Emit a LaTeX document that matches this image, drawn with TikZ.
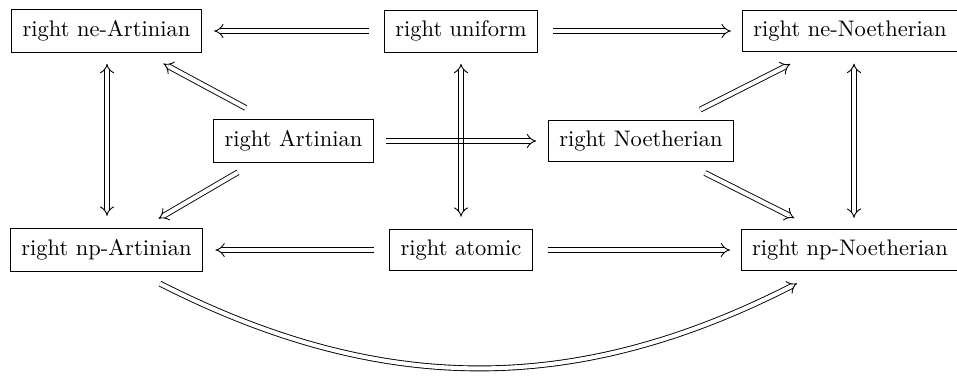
\documentclass[tikz,border=0pt]{standalone}
\usetikzlibrary{arrows.meta,calc}
\tikzset{
  box/.style={draw, line width=0.4pt, inner sep=4.8pt},
  imp/.style={double, double distance=1.8pt, line width=0.4pt, -{Implies}},
  bimp/.style={double, double distance=1.8pt, line width=0.4pt, {Implies}-{Implies}},
  edgeline/.style={line width=0.4pt},
}
\begin{document}
\begin{tikzpicture}[x=0.4444pt, y=-0.4444pt]
\useasboundingbox (0,0) rectangle (957,379);
% nodes
\node[box] (neA)  at (106.5,31) {right ne-Artinian};
\node[box] (uni)  at (461,31)   {right uniform};
\node[box] (neN)  at (850,31)   {right ne-Noetherian};
\node[box] (art)  at (293.5,141) {right Artinian};
\node[box] (noe)  at (641,141)  {right Noetherian};
\node[box] (npA)  at (106.5,250) {right np-Artinian};
\node[box] (atom) at (461,250)  {right atomic};
\node[box] (npN)  at (850,250)  {right np-Noetherian};
% top row
\draw[imp, shorten <=6.7pt, shorten >=5.6pt] (uni) -- (neA);
\draw[imp, shorten <=6.7pt, shorten >=5pt] (uni) -- (neN);
% bottom row
\draw[imp, shorten <=7pt, shorten >=5.6pt] (atom) -- (npA);
\draw[imp, shorten <=6.7pt, shorten >=4.8pt] (atom) -- (npN);
% verticals
\draw[bimp, shorten <=5pt, shorten >=5.6pt] ($(neA.south)+(0.5,0)$) -- ($(npA.north)+(0.5,0)$);
\draw[bimp, shorten <=5pt, shorten >=5.3pt] (uni.south) -- (atom.north);
\draw[bimp, shorten <=5pt, shorten >=4.8pt] ($(neN.south)+(4,0)$) -- ($(npN.north)+(4,0)$);
% middle horizontal (over the vertical)
\draw[imp, shorten <=5.3pt, shorten >=5.3pt] (art) -- (noe);
\begin{scope}
  \clip (447,128) rectangle (475,154);
  \draw[edgeline] ($(uni.south)+(1.1pt,0)$) -- ($(atom.north)+(1.1pt,0)$);
  \draw[edgeline] ($(uni.south)+(-1.1pt,0)$) -- ($(atom.north)+(-1.1pt,0)$);
\end{scope}
% diagonals
\draw[imp, shorten <=10.7pt, shorten >=10.3pt] ($(art.north)+(-26.5,0)$) -- ($(neA.south)+(36.5,0)$);
\draw[imp, shorten <=8.5pt, shorten >=8.5pt] ($(art.south)+(-39,0)$) -- ($(npA.north)+(35.5,0)$);
\draw[imp, shorten <=9.8pt, shorten >=11.5pt] ($(noe.north)+(39.4,0)$) -- ($(neN.south)+(-36.6,0)$);
\draw[imp, shorten <=10.4pt, shorten >=10.4pt] ($(noe.south)+(43,0)$) -- ($(npN.north)+(-34.8,0)$);
% curved
\draw[imp] ($(npA.south)+(53.5,12)$) to[bend right=27] ($(npN.south)+(-53,12)$);
\end{tikzpicture}
\end{document}
